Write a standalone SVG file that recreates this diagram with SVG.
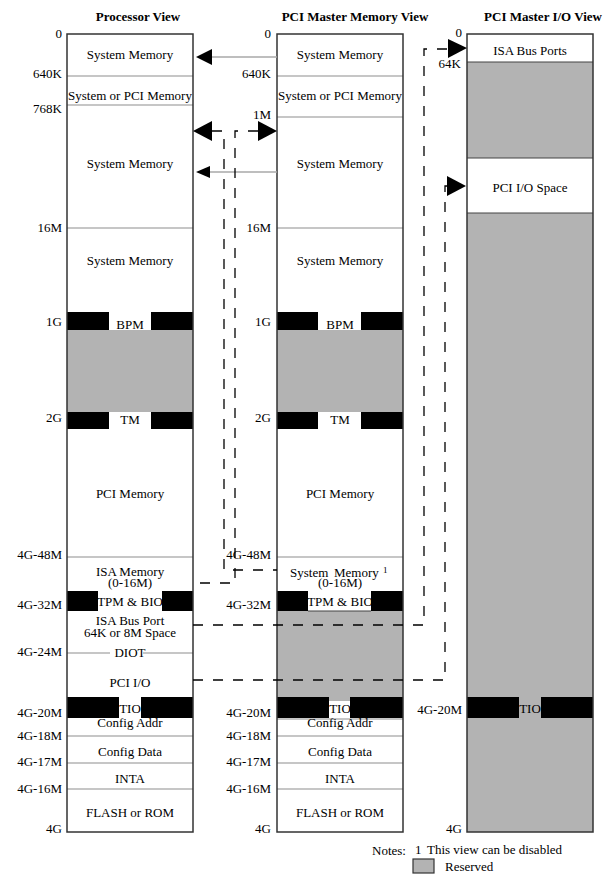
<svg xmlns="http://www.w3.org/2000/svg" width="610" height="875" viewBox="0 0 610 875">
<style>
text{font-family:"Liberation Serif","Times New Roman",serif;font-size:13px;fill:#000}
.t{font-weight:bold;text-anchor:middle}
.c1{text-anchor:middle}
.lb{text-anchor:end}
.bg{fill:#fff;stroke:none}
.gr{fill:#b3b3b3;stroke:none}
.bk{fill:#000;stroke:none}
.ln{stroke:#b4b4b4;stroke-width:1.3;fill:none}
.dl{stroke:#444;stroke-width:1.2;fill:none}
.bd{fill:none;stroke:#333;stroke-width:1.5}
.dash{fill:none;stroke:#000;stroke-width:1.3;stroke-dasharray:10 10}
.sl{stroke:#a8a8a8;stroke-width:1.3;fill:none}
.ah{fill:#000;stroke:none}
</style>
<rect width="610" height="875" fill="#fff"/>

<g id="titles">
<text class="t" x="138" y="20.5">Processor View</text>
<text class="t" x="355" y="20.5">PCI Master Memory View</text>
<text class="t" x="543" y="20.5">PCI Master I/O View</text>
</g>

<g id="processor-view">
<rect class="bg" x="67" y="34" width="126" height="798"/>
<rect class="gr" x="67" y="330" width="126" height="82"/>
<path class="ln" d="M67 76H193M67 105H193M67 228H193M67 557H193M67 653H110M143 653H193M67 736H193M67 763H193M67 789H193"/>
<text class="c1" x="130" y="59">System Memory</text>
<text class="c1" x="130" y="100">System or PCI Memory</text>
<text class="c1" x="130" y="168">System Memory</text>
<text class="c1" x="130" y="265">System Memory</text>
<text class="c1" x="130" y="329">BPM</text>
<text class="c1" x="130" y="424">TM</text>
<text class="c1" x="130" y="498">PCI Memory</text>
<text class="c1" x="130" y="576">ISA Memory</text>
<text class="c1" x="130" y="587">(0-16M)</text>
<text class="c1" x="130" y="606">TPM &amp; BIO</text>
<text class="c1" x="130" y="625">ISA Bus Port</text>
<text class="c1" x="130" y="637">64K or 8M Space</text>
<text class="c1" x="130" y="657">DIOT</text>
<text class="c1" x="130" y="687">PCI I/O</text>
<text class="c1" x="130" y="713">TIO</text>
<text class="c1" x="130" y="727">Config Addr</text>
<text class="c1" x="130" y="756">Config Data</text>
<text class="c1" x="130" y="783">INTA</text>
<text class="c1" x="130" y="817">FLASH or ROM</text>
<rect class="bk" x="67" y="312" width="42" height="18"/>
<rect class="bk" x="151" y="312" width="42" height="18"/>
<rect class="bk" x="67" y="412" width="42" height="17"/>
<rect class="bk" x="151" y="412" width="42" height="17"/>
<rect class="bk" x="67" y="591" width="31" height="20"/>
<rect class="bk" x="162" y="591" width="31" height="20"/>
<rect class="bk" x="67" y="697" width="52" height="21"/>
<rect class="bk" x="141" y="697" width="52" height="21"/>
<rect class="bd" x="67" y="34" width="126" height="798"/>
<text class="lb" x="62" y="38">0</text>
<text class="lb" x="62" y="78">640K</text>
<text class="lb" x="62" y="113">768K</text>
<text class="lb" x="62" y="231.5">16M</text>
<text class="lb" x="62" y="325.5">1G</text>
<text class="lb" x="62" y="421.5">2G</text>
<text class="lb" x="62" y="558.5">4G-48M</text>
<text class="lb" x="62" y="608.5">4G-32M</text>
<text class="lb" x="62" y="655.5">4G-24M</text>
<text class="lb" x="62" y="716.5">4G-20M</text>
<text class="lb" x="62" y="739.5">4G-18M</text>
<text class="lb" x="62" y="765.5">4G-17M</text>
<text class="lb" x="62" y="792.5">4G-16M</text>
<text class="lb" x="62" y="832.5">4G</text>
</g>

<g id="pci-memory-view">
<rect class="bg" x="277" y="34" width="126" height="798"/>
<rect class="gr" x="277" y="330" width="126" height="82"/>
<rect class="gr" x="277" y="611" width="126" height="86"/>
<rect class="gr" x="329" y="697" width="21" height="4"/>
<path class="ln" d="M277 76H403M277 117H403M277 228H403M277 557H403M277 719H403M277 736H403M277 763H403M277 789H403"/>
<path class="dl" d="M308 611H371"/>
<text class="c1" x="340" y="59">System Memory</text>
<text class="c1" x="340" y="100">System or PCI Memory</text>
<text class="c1" x="340" y="168">System Memory</text>
<text class="c1" x="340" y="265">System Memory</text>
<text class="c1" x="340" y="329">BPM</text>
<text class="c1" x="340" y="424">TM</text>
<text class="c1" x="340" y="498">PCI Memory</text>
<text x="290" y="577">System</text>
<text x="334" y="577">Memory</text>
<text x="383" y="573" style="font-size:9px">1</text>
<text class="c1" x="340" y="587">(0-16M)</text>
<text class="c1" x="340" y="606">TPM &amp; BIO</text>
<text class="c1" x="340" y="713">TIO</text>
<text class="c1" x="340" y="727">Config Addr</text>
<text class="c1" x="340" y="756">Config Data</text>
<text class="c1" x="340" y="783">INTA</text>
<text class="c1" x="340" y="817">FLASH or ROM</text>
<rect class="bk" x="277" y="312" width="41" height="18"/>
<rect class="bk" x="361" y="312" width="42" height="18"/>
<rect class="bk" x="277" y="412" width="41" height="17"/>
<rect class="bk" x="361" y="412" width="42" height="17"/>
<rect class="bk" x="277" y="591" width="31" height="20"/>
<rect class="bk" x="371" y="591" width="32" height="20"/>
<rect class="bk" x="277" y="697" width="52" height="21"/>
<rect class="bk" x="350" y="697" width="53" height="21"/>
<rect class="bd" x="277" y="34" width="126" height="798"/>
<text class="lb" x="271" y="38">0</text>
<text class="lb" x="271" y="78">640K</text>
<text class="lb" x="271" y="119">1M</text>
<text class="lb" x="271" y="231.5">16M</text>
<text class="lb" x="271" y="325.5">1G</text>
<text class="lb" x="271" y="421.5">2G</text>
<text class="lb" x="271" y="558.5">4G-48M</text>
<text class="lb" x="271" y="608.5">4G-32M</text>
<text class="lb" x="271" y="716.5">4G-20M</text>
<text class="lb" x="271" y="739.5">4G-18M</text>
<text class="lb" x="271" y="765.5">4G-17M</text>
<text class="lb" x="271" y="792.5">4G-16M</text>
<text class="lb" x="271" y="832.5">4G</text>
</g>

<g id="pci-io-view">
<rect class="gr" x="467" y="34" width="126" height="798"/>
<rect class="bg" x="467" y="34" width="126" height="28"/>
<rect class="bg" x="467" y="158" width="126" height="55"/>
<path class="dl" d="M467 62H593M467 158H593M467 213H593"/>
<text class="c1" x="530" y="55">ISA Bus Ports</text>
<text class="c1" x="530" y="192">PCI I/O Space</text>
<text class="c1" x="530" y="713">TIO</text>
<rect class="bk" x="467" y="697" width="52" height="21"/>
<rect class="bk" x="541" y="697" width="52" height="21"/>
<rect class="bd" x="467" y="34" width="126" height="798"/>
<text class="lb" x="462" y="37">0</text>
<text class="lb" x="461" y="68">64K</text>
<text class="lb" x="462" y="714">4G-20M</text>
<text class="lb" x="462" y="832.5">4G</text>
</g>

<g id="connectors">
<path class="sl" d="M212 57H277"/>
<polygon class="ah" points="196,57 212,49 212,65"/>
<path class="sl" d="M210 172H277"/>
<polygon class="ah" points="196,172 210,166 210,178"/>
<path class="dash" d="M212 131H224V570H277"/>
<path class="dash" d="M258 131H235V583H193"/>
<polygon class="ah" points="193,131 212,121 212,141"/>
<polygon class="ah" points="277,131 258,121 258,141"/>
<path class="dash" d="M193 625H424V49H448"/>
<path class="dash" d="M193 680H445V186H448"/>
<polygon class="ah" points="467,48 448,39 448,58"/>
<polygon class="ah" points="466,186 447,176 447,196"/>
</g>

<g id="notes">
<text x="372" y="855">Notes:</text>
<text x="415" y="854">1</text>
<text x="427" y="854">This view can be disabled</text>
<rect x="413" y="859" width="21" height="14" fill="#b3b3b3" stroke="#333" stroke-width="1.2"/>
<text x="445" y="871">Reserved</text>
</g>
</svg>
